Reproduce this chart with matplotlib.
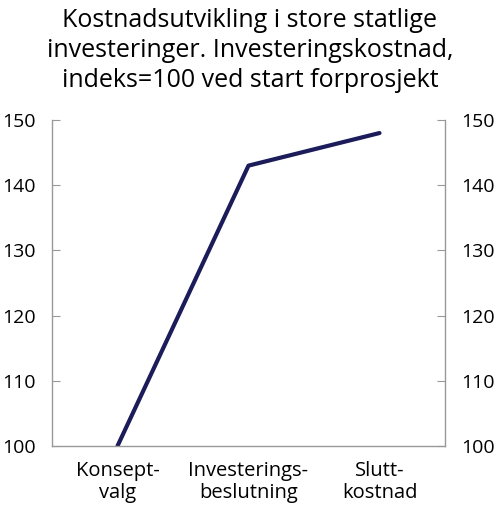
import matplotlib.pyplot as plt

plt.rcParams['font.family'] = ['Open Sans', 'DejaVu Sans']

stages = ["Konsept-\nvalg", "Investerings-\nbeslutning", "Slutt-\nkostnad"]
index_values = [100, 143, 148]
y_ticks = [100, 110, 120, 130, 140, 150]

fig = plt.figure(figsize=(5, 5.15), dpi=100)
ax = fig.add_axes([0.104, 0.134, 0.786, 0.633])

ax.plot(range(len(stages)), index_values, color='#1c1c5a', linewidth=3,
        solid_capstyle='round')

ax.set_xlim(-0.5, 2.5)
ax.set_ylim(100, 150)
ax.set_xticks(range(len(stages)))
ax.set_xticklabels(stages, fontsize=14.5, linespacing=1.1)
ax.set_yticks(y_ticks)
ax.tick_params(axis='x', length=0, pad=11)
ax.tick_params(axis='y', direction='in', length=6, color='#999999',
               labelsize=14, left=True, right=True, labelleft=True,
               labelright=True, pad=12)

for side in ['left', 'right', 'bottom']:
    ax.spines[side].set_color('#999999')
    ax.spines[side].set_linewidth(1)
ax.spines['top'].set_visible(False)

fig.suptitle("Kostnadsutvikling i store statlige\ninvesteringer. Investeringskostnad,\nindeks=100 ved start forprosjekt",
             fontsize=18, y=0.984, va='top', linespacing=1.25)

fig.savefig("out.png", dpi=100)
